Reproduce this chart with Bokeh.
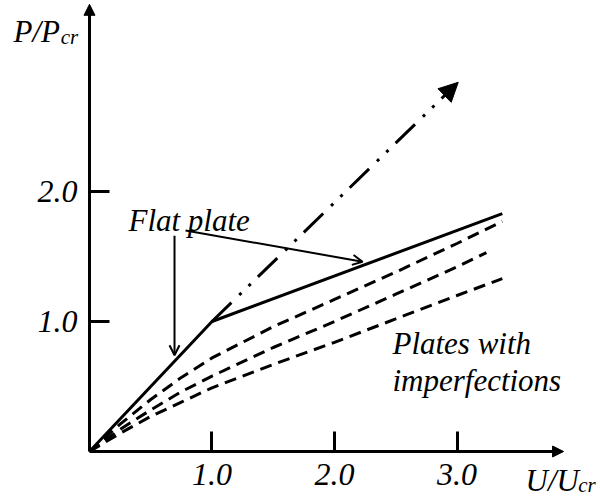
from bokeh.plotting import figure
from bokeh.models import Range1d, FixedTicker, Arrow, NormalHead, OpenHead, Label, PrintfTickFormatter
from bokeh.embed import file_html
from bokeh.resources import INLINE

# ---- data ----
flat_x = [0.0, 1.0, 3.37]
flat_y = [0.0, 1.0, 1.83]

elastic_x = [1.0, 3.01]
elastic_y = [1.0, 2.84]

imp1_x = [0.0, 0.25, 0.5, 0.75, 1.0, 1.5, 2.0, 2.5, 3.0, 3.37]
imp1_y = [0.0, 0.21, 0.40, 0.57, 0.72, 0.96, 1.17, 1.38, 1.60, 1.77]
imp2_x = [0.0, 0.25, 0.5, 0.75, 1.0, 1.5, 2.0, 2.5, 3.0, 3.24]
imp2_y = [0.0, 0.17, 0.32, 0.46, 0.58, 0.80, 1.00, 1.21, 1.42, 1.53]
imp3_x = [0.0, 0.25, 0.5, 0.75, 1.0, 1.5, 2.0, 2.5, 3.0, 3.37]
imp3_y = [0.0, 0.14, 0.27, 0.38, 0.49, 0.67, 0.84, 1.02, 1.20, 1.33]

x_ticks = [1.0, 2.0, 3.0]
y_ticks = [1.0, 2.0]

FONT = "Liberation Serif"

p = figure(width=600, height=497,
           x_range=Range1d(-0.7265, 4.1714), y_range=Range1d(-0.3538, 3.4692),
           output_backend="svg", toolbar_location=None, min_border=0,
           outline_line_color=None)
p.grid.visible = False

# axes crossing at the origin
for ax, ticks, bnd, standoff in ((p.xaxis, x_ticks, (0, 3.80), 12), (p.yaxis, y_ticks, (0, 3.36), 12)):
    ax.fixed_location = 0
    ax.bounds = bnd
    ax.ticker = FixedTicker(ticks=ticks)
    ax.formatter = PrintfTickFormatter(format="%.1f")
    ax.axis_line_width = 3
    ax.axis_line_color = "black"
    ax.major_tick_line_width = 3
    ax.major_tick_line_color = "black"
    ax.major_tick_in = 20
    ax.major_tick_out = 0
    ax.minor_tick_line_color = None
    ax.major_label_text_font = FONT
    ax.major_label_text_font_style = "italic"
    ax.major_label_text_font_size = "32px"
    ax.major_label_text_color = "black"
    ax.major_label_standoff = standoff

# axis arrowheads
p.add_layout(Arrow(x_start=3.70, y_start=0, x_end=3.87, y_end=0, line_width=3,
                   end=NormalHead(size=11, fill_color="black", line_color="black")))
p.add_layout(Arrow(x_start=0, y_start=3.28, x_end=0, y_end=3.44, line_width=3,
                   end=NormalHead(size=11, fill_color="black", line_color="black")))

# curves
for xs, ys in ((imp1_x, imp1_y), (imp2_x, imp2_y), (imp3_x, imp3_y)):
    p.line(xs, ys, line_color="black", line_width=3, line_dash="12 7")
p.line(flat_x, flat_y, line_color="black", line_width=3)

# elastic (dash-dot-dot) extension with arrowhead
p.add_layout(Arrow(x_start=elastic_x[0], y_start=elastic_y[0], x_end=elastic_x[-1], y_end=elastic_y[-1],
                   line_width=3, line_dash="27 11 3 10 3 10",
                   end=NormalHead(size=19, fill_color="black", line_color="black", line_width=1)))

# "Flat plate" pointers
p.add_layout(Arrow(x_start=0.694, y_start=1.66, x_end=0.694, y_end=0.74, line_width=2,
                   end=OpenHead(size=10, line_width=2)))
p.add_layout(Arrow(x_start=0.784, y_start=1.70, x_end=2.229, y_end=1.46, line_width=2,
                   end=OpenHead(size=10, line_width=2)))

def lab(x, y, t, size="31px"):
    p.add_layout(Label(x=x, y=y, text=t, text_font=FONT, text_font_style="italic",
                       text_font_size=size, text_baseline="alphabetic", text_align="left",
                       text_color="black"))

lab(0.318, 1.777, "Flat plate")
lab(2.473, 0.831, "Plates with")
lab(2.473, 0.546, "imperfections")

# axis titles
lab(-0.620, 3.23, "P/P", "31px")
lab(-0.235, 3.19, "cr", "21px")
lab(3.560, -0.225, "U/U", "31px")
lab(3.990, -0.255, "cr", "21px")

open("out.html", "w").write(file_html(p, INLINE))
